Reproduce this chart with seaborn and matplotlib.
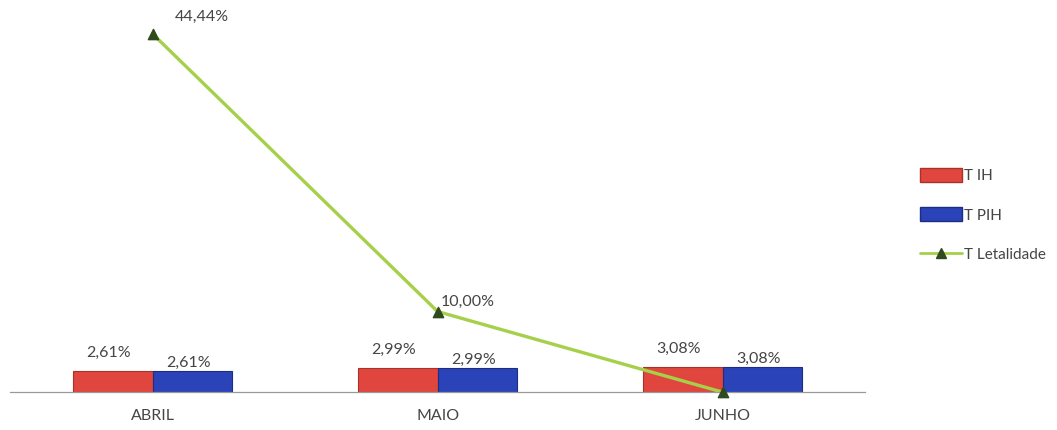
"""Taxas mensais de infecção hospitalar e letalidade (abril-junho)."""

import matplotlib
matplotlib.use("Agg")
import matplotlib.pyplot as plt
import numpy as np
import pandas as pd
import seaborn as sns
from matplotlib.lines import Line2D
from matplotlib.patches import Patch

meses = ["ABRIL", "MAIO", "JUNHO"]
tih = [2.61, 2.99, 3.08]
tpih = [2.61, 2.99, 3.08]
letalidade = [44.44, 10.00, 0.00]

series = ["T IH", "T PIH"]
cores = {"T IH": "#E0463D", "T PIH": "#2A43B8"}
bordas = {"T IH": "#A8322B", "T PIH": "#1C2E82"}
verde = "#A6D04A"
marcador = "#2F4A1F"
cinza = "#454545"


def fmt(v: float) -> str:
    return f"{v:.2f}%".replace(".", ",")


sns.set_theme(style="white")
plt.rcParams["font.family"] = ["Lato", "DejaVu Sans"]

df = pd.DataFrame({
    "mes": meses * 2,
    "valor": tih + tpih,
    "serie": [series[0]] * len(meses) + [series[1]] * len(meses),
})

fig = plt.figure(figsize=(10.57, 4.30), dpi=100)
ax = fig.add_axes([0.0095, 0.088, 0.809, 0.90])

sns.barplot(data=df, x="mes", y="valor", hue="serie", order=meses,
            hue_order=series, palette=cores, width=0.56, gap=0,
            ax=ax, legend=False, saturation=1)
for cont, s in zip(ax.containers, series):
    for barra in cont:
        barra.set_edgecolor(bordas[s])
        barra.set_linewidth(0.8)

sns.pointplot(x=meses, y=letalidade, order=meses, color=verde, markers="^",
              linewidth=2.4, markersize=0, ax=ax, zorder=5)
ax.scatter(np.arange(len(meses)), letalidade, marker="^", s=55,
           color=marcador, zorder=6, clip_on=False)

# rótulos das barras
for cont, s in zip(ax.containers, series):
    dy = 13 if s == "T IH" else 6
    for barra in cont:
        ax.annotate(fmt(barra.get_height()),
                    (barra.get_x() + barra.get_width() / 2, barra.get_height()),
                    xytext=(-3, dy), textcoords="offset points",
                    ha="center", va="center", fontsize=11.5, color=cinza)

# rótulos da letalidade (o zero não é rotulado)
desloc = [(16, 12), (2, 7), (0, 0)]
for i, v in enumerate(letalidade):
    if v > 0:
        ax.annotate(fmt(v), (i, v), xytext=desloc[i], textcoords="offset points",
                    ha="left", va="center", fontsize=11.5, color=cinza)

ax.set_xlim(-0.5, len(meses) - 0.5)
ax.set_ylim(0, 48)
ax.set_xlabel("")
ax.set_ylabel("")
ax.set_yticks([])
for lado in ["top", "right", "left"]:
    ax.spines[lado].set_visible(False)
ax.spines["bottom"].set_color("#9A9A9A")
ax.spines["bottom"].set_linewidth(0.9)
ax.set_xticks(np.arange(-0.5, len(meses), 1.0), minor=True)
ax.tick_params(axis="x", which="minor", length=5, color="#9A9A9A",
               direction="out", width=0.9)
ax.tick_params(axis="x", which="major", length=0, pad=12,
               labelsize=11.5, labelcolor=cinza)

handles = [
    Patch(facecolor=cores["T IH"], edgecolor=bordas["T IH"], label="T IH"),
    Patch(facecolor=cores["T PIH"], edgecolor=bordas["T PIH"], label="T PIH"),
    Line2D([], [], color=verde, lw=2, marker="^", markersize=7,
           markerfacecolor=marcador, markeredgecolor=marcador,
           label="T Letalidade"),
]
fig.legend(handles=handles, loc="center left", bbox_to_anchor=(0.857, 0.5),
           frameon=False, fontsize=11, labelcolor=cinza, handlelength=2.8,
           handleheight=1.0, handletextpad=0.1, labelspacing=1.6)

fig.savefig("out.png", dpi=100, facecolor="white")
